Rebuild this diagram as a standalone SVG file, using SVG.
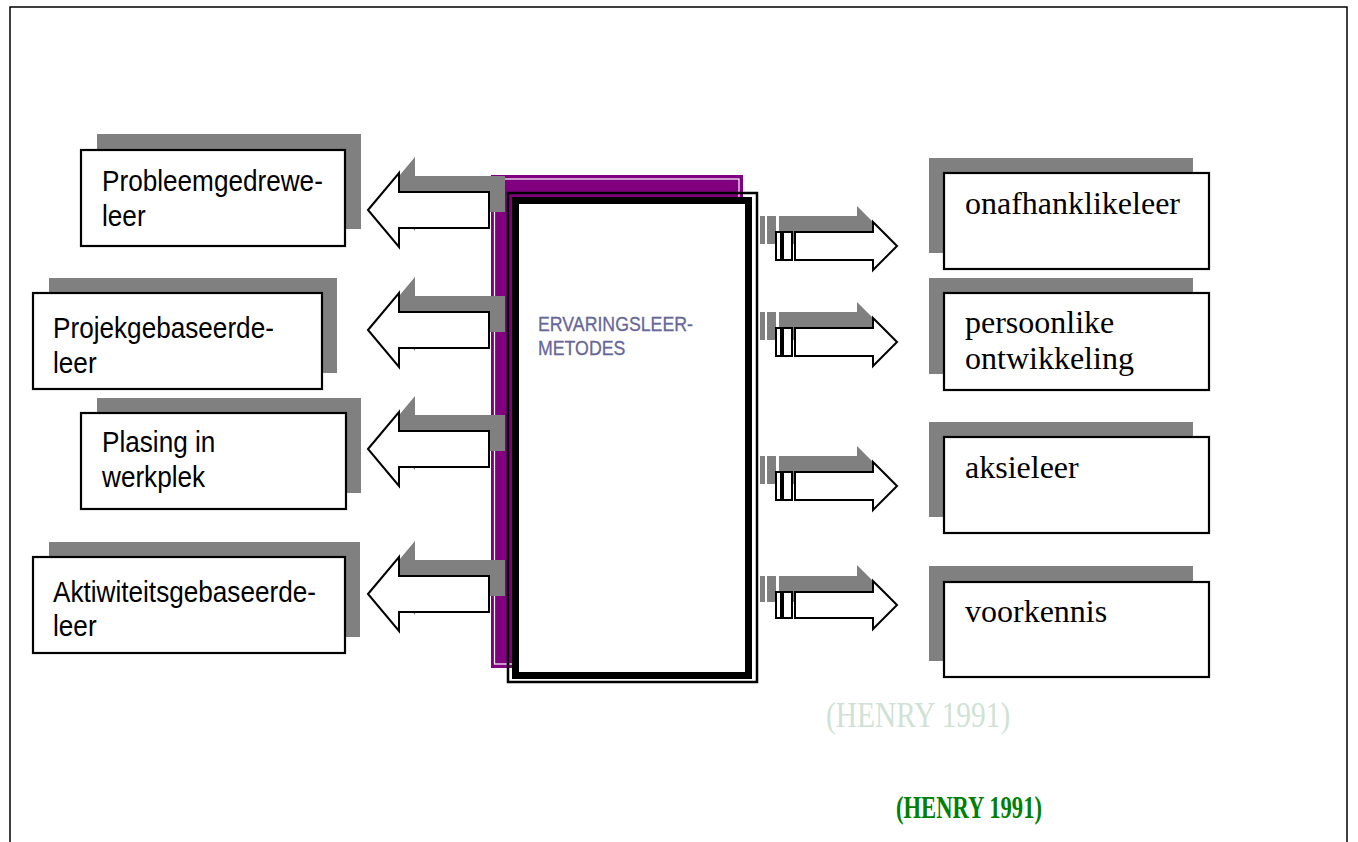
<svg xmlns="http://www.w3.org/2000/svg" width="1358" height="842" viewBox="0 0 1358 842">
<style>
.shadow{fill:#808080;stroke:none}
.box{fill:#fff;stroke:#000;stroke-width:2.2}
.arrow{fill:#fff;stroke:#000;stroke-width:2}
.lt{font-family:"Liberation Sans",Arial,sans-serif;font-size:30px;fill:#000}
.rt{font-family:"Liberation Serif","Times New Roman",serif;font-size:32px;fill:#000}
.ct{font-family:"Liberation Sans",Arial,sans-serif;font-size:20.5px;fill:#666699}
</style>
<rect width="1358" height="842" fill="#fff"/>
<rect id="frame" x="10" y="7" width="1337" height="850" fill="none" stroke="#000" stroke-width="1.5"/>

<g id="node-probleem">
<rect class="shadow" x="97" y="134" width="264" height="95"/>
<rect class="box" x="81" y="150" width="264" height="96"/>
<text class="lt" transform="translate(102,0) scale(0.872,1)"><tspan x="0" y="191">Probleemgedrewe-</tspan><tspan x="0" y="226">leer</tspan></text>
</g>
<g id="node-projek">
<rect class="shadow" x="49" y="278" width="288" height="95"/>
<rect class="box" x="33" y="293" width="289" height="96"/>
<text class="lt" transform="translate(53,0) scale(0.872,1)"><tspan x="0" y="338">Projekgebaseerde-</tspan><tspan x="0" y="373">leer</tspan></text>
</g>
<g id="node-plasing">
<rect class="shadow" x="97" y="398" width="264" height="95"/>
<rect class="box" x="81" y="413" width="265" height="96"/>
<text class="lt" transform="translate(102,0) scale(0.872,1)"><tspan x="0" y="452">Plasing in</tspan><tspan x="0" y="487">werkplek</tspan></text>
</g>
<g id="node-aktiwiteit">
<rect class="shadow" x="49" y="542" width="311" height="95"/>
<rect class="box" x="33" y="557" width="312" height="96"/>
<text class="lt" transform="translate(53,0) scale(0.872,1)"><tspan x="0" y="602">Aktiwiteitsgebaseerde-</tspan><tspan x="0" y="636">leer</tspan></text>
</g>

<g id="node-onafhanklik">
<rect class="shadow" x="929" y="158" width="264" height="95"/>
<rect class="box" x="944" y="173" width="265" height="96"/>
<text class="rt" x="965" y="214">onafhanklikeleer</text>
</g>
<g id="node-persoonlike">
<rect class="shadow" x="929" y="278" width="264" height="96"/>
<rect class="box" x="944" y="293" width="265" height="97"/>
<text class="rt"><tspan x="965" y="333">persoonlike</tspan><tspan x="965" y="369">ontwikkeling</tspan></text>
</g>
<g id="node-aksie">
<rect class="shadow" x="929" y="422" width="264" height="95"/>
<rect class="box" x="944" y="437" width="265" height="96"/>
<text class="rt" x="965" y="478">aksieleer</text>
</g>
<g id="node-voorkennis">
<rect class="shadow" x="929" y="566" width="264" height="95"/>
<rect class="box" x="944" y="582" width="265" height="95"/>
<text class="rt" x="965" y="622">voorkennis</text>
</g>

<g id="node-center-back">
<rect x="491" y="175" width="252" height="493" fill="#800080"/>
<rect x="494.5" y="179" width="244.5" height="485" fill="none" stroke="#fff" stroke-width="1.2"/>
</g>

<g id="connectors">
<g transform="translate(368,210)"><polygon class="shadow" transform="translate(16,-16)" points="0,0 31,-37 31,-18 121,-18 121,18 31,18 31,37"/><polygon class="arrow" points="0,0 31,-37 31,-18 121,-18 121,18 31,18 31,37"/></g>
<g transform="translate(368,330)"><polygon class="shadow" transform="translate(16,-16)" points="0,0 31,-37 31,-18 121,-18 121,18 31,18 31,37"/><polygon class="arrow" points="0,0 31,-37 31,-18 121,-18 121,18 31,18 31,37"/></g>
<g transform="translate(368,449)"><polygon class="shadow" transform="translate(16,-16)" points="0,0 31,-37 31,-18 121,-18 121,18 31,18 31,37"/><polygon class="arrow" points="0,0 31,-37 31,-18 121,-18 121,18 31,18 31,37"/></g>
<g transform="translate(368,594)"><polygon class="shadow" transform="translate(16,-16)" points="0,0 31,-37 31,-18 121,-18 121,18 31,18 31,37"/><polygon class="arrow" points="0,0 31,-37 31,-18 121,-18 121,18 31,18 31,37"/></g>

<g transform="translate(897,246)"><g transform="translate(-16,-16)"><polygon class="shadow" points="0,0 -24,-24 -24,-14 -102,-14 -102,14 -24,14 -24,24"/><rect class="shadow" x="-121" y="-14" width="5" height="28"/><rect class="shadow" x="-114" y="-14" width="9" height="28"/></g><polygon class="arrow" points="0,0 -24,-24 -24,-14 -102,-14 -102,14 -24,14 -24,24"/><rect class="arrow" x="-121" y="-14" width="5" height="28"/><rect class="arrow" x="-114" y="-14" width="9" height="28"/></g>
<g transform="translate(897,342)"><g transform="translate(-16,-16)"><polygon class="shadow" points="0,0 -24,-24 -24,-14 -102,-14 -102,14 -24,14 -24,24"/><rect class="shadow" x="-121" y="-14" width="5" height="28"/><rect class="shadow" x="-114" y="-14" width="9" height="28"/></g><polygon class="arrow" points="0,0 -24,-24 -24,-14 -102,-14 -102,14 -24,14 -24,24"/><rect class="arrow" x="-121" y="-14" width="5" height="28"/><rect class="arrow" x="-114" y="-14" width="9" height="28"/></g>
<g transform="translate(897,486)"><g transform="translate(-16,-16)"><polygon class="shadow" points="0,0 -24,-24 -24,-14 -102,-14 -102,14 -24,14 -24,24"/><rect class="shadow" x="-121" y="-14" width="5" height="28"/><rect class="shadow" x="-114" y="-14" width="9" height="28"/></g><polygon class="arrow" points="0,0 -24,-24 -24,-14 -102,-14 -102,14 -24,14 -24,24"/><rect class="arrow" x="-121" y="-14" width="5" height="28"/><rect class="arrow" x="-114" y="-14" width="9" height="28"/></g>
<g transform="translate(897,605)"><g transform="translate(-16,-16)"><polygon class="shadow" points="0,0 -24,-24 -24,-13 -102,-13 -102,13 -24,13 -24,24"/><rect class="shadow" x="-121" y="-13" width="5" height="26"/><rect class="shadow" x="-114" y="-13" width="9" height="26"/></g><polygon class="arrow" points="0,0 -24,-24 -24,-13 -102,-13 -102,13 -24,13 -24,24"/><rect class="arrow" x="-121" y="-13" width="5" height="26"/><rect class="arrow" x="-114" y="-13" width="9" height="26"/></g>
</g>

<g id="node-center">
<rect x="508" y="193" width="249" height="489" fill="none" stroke="#000" stroke-width="2.5"/>
<rect x="515.5" y="200.5" width="233" height="475" fill="#fff" stroke="#000" stroke-width="7"/>
<text class="ct" transform="translate(538,0) scale(0.865,1)" stroke="#666699" stroke-width="0.3"><tspan x="0" y="331">ERVARINGSLEER-</tspan><tspan x="0" y="355">METODES</tspan></text>
</g>

<g id="citations">
<text transform="translate(826,727) scale(0.84,1)" font-family="'Liberation Serif','Times New Roman',serif" font-size="35" fill="#cfe2d5">(HENRY 1991)</text>
<text transform="translate(896,818) scale(0.73,1)" font-family="'Liberation Serif','Times New Roman',serif" font-size="31" font-weight="bold" fill="#008000">(HENRY 1991)</text>
</g>
</svg>
